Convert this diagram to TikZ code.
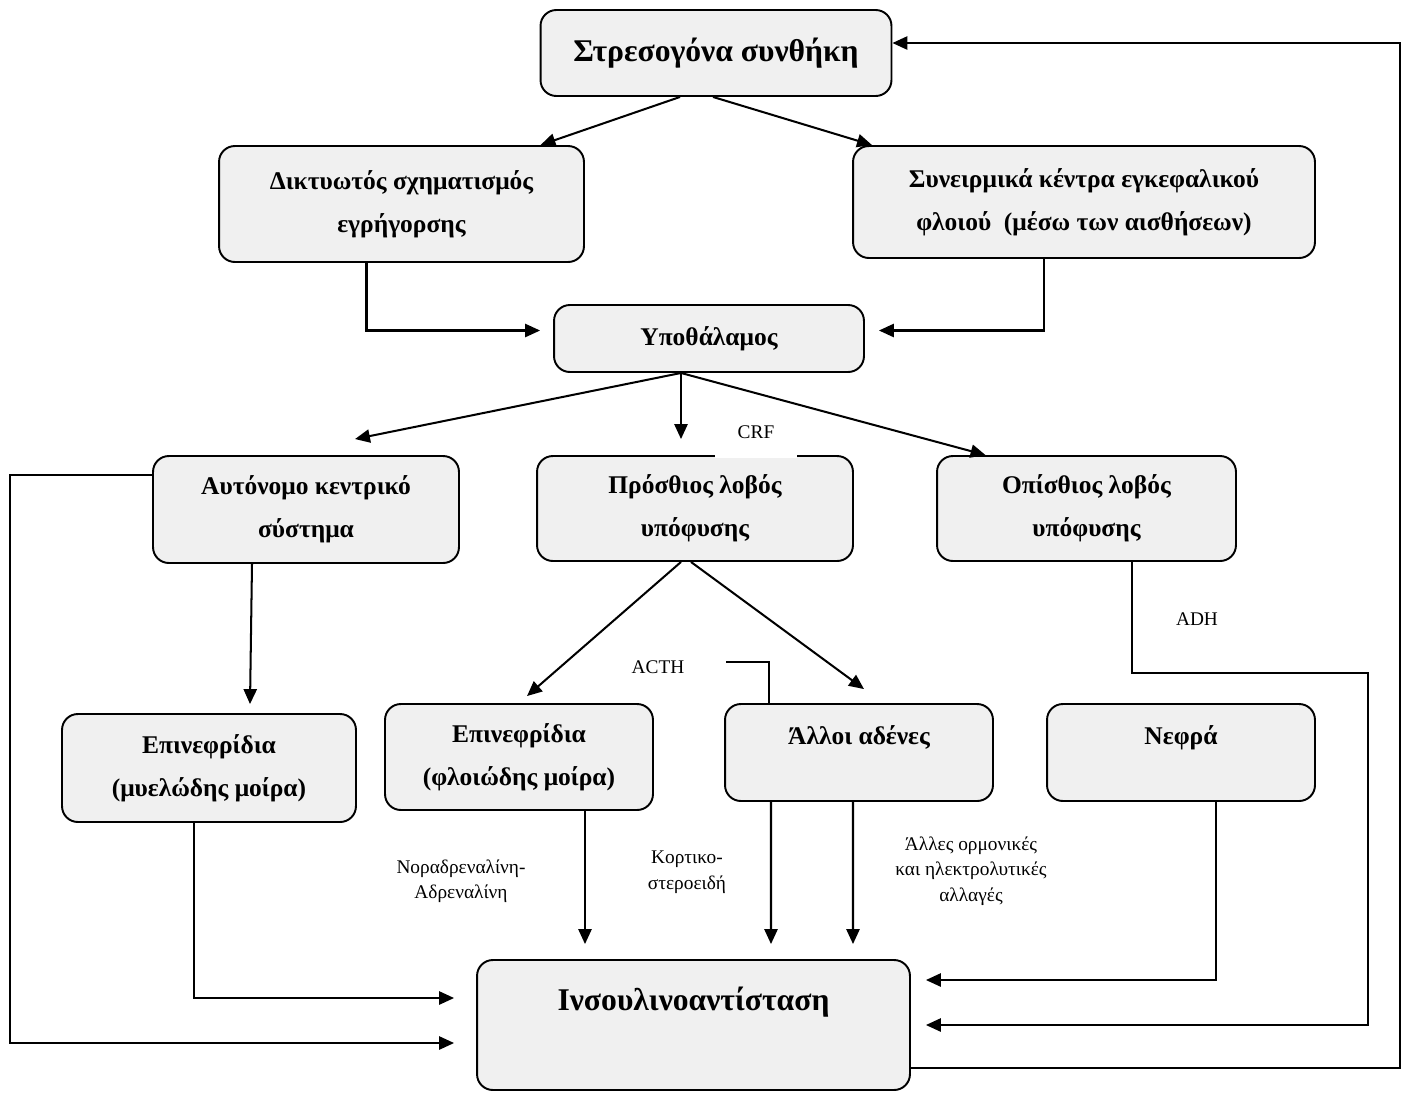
\documentclass[tikz,border=0pt]{standalone}
\usepackage{fontspec}
\setmainfont{Liberation Serif}
\usetikzlibrary{arrows.meta,calc}
\definecolor{boxgray}{RGB}{240,240,240}

\begin{document}
\begin{tikzpicture}[x=0.02cm,y=-0.02cm,
  bx/.style={draw,line width=1.1pt,rounded corners=9pt,fill=boxgray,align=center,
    font=\fontsize{14.5}{24.5}\selectfont\bfseries,inner sep=2pt},
  big/.style={font=\fontsize{18}{22}\selectfont\bfseries},
  ar/.style={line width=1.15pt,-{Triangle[length=8.5pt,width=7.5pt]}},
  ln/.style={line width=1.15pt},
  lb/.style={font=\fontsize{11}{14.5}\selectfont,align=center,inner sep=1pt}]
\useasboundingbox (0,0) rectangle (1410,1093);
% boxes
\node[bx,big,minimum width=7.02cm,minimum height=1.72cm] (stress) at (716,53) {Στρεσογόνα συνθήκη};
\node[bx,minimum width=7.3cm,minimum height=2.32cm] (retic) at (401.5,204) {Δικτυωτός σχηματισμός\\εγρήγορσης};
\node[bx,minimum width=9.24cm,minimum height=2.24cm] (assoc) at (1084,202) {Συνειρμικά κέντρα εγκεφαλικού\\φλοιού\ \ (μέσω των αισθήσεων)};
\node[bx,minimum width=6.2cm,minimum height=1.34cm] (hypo) at (709,338.5) {Υποθάλαμος};
\node[bx,minimum width=6.12cm,minimum height=2.14cm] (ans) at (306,509.5) {Αυτόνομο κεντρικό\\σύστημα};
\node[bx,minimum width=6.32cm,minimum height=2.1cm] (ant) at (695,508.5) {Πρόσθιος λοβός\\υπόφυσης};
\node[bx,minimum width=5.98cm,minimum height=2.1cm] (post) at (1086.5,508.5) {Οπίσθιος λοβός\\υπόφυσης};
\node[bx,minimum width=5.88cm,minimum height=2.16cm] (medul) at (209,768) {Επινεφρίδια\\(μυελώδης μοίρα)};
\node[bx,minimum width=5.36cm,minimum height=2.12cm] (cortx) at (519,757) {Επινεφρίδια\\(φλοιώδης μοίρα)};
\node[bx,minimum width=5.36cm,minimum height=1.94cm,text depth=20pt] (gland) at (859,752.5) {Άλλοι αδένες};
\node[bx,minimum width=5.36cm,minimum height=1.94cm,text depth=20pt] (kidney) at (1181,752.5) {Νεφρά};
\node[bx,big,minimum width=8.66cm,minimum height=2.6cm,text depth=30pt] (insul) at (693.5,1025) {Ινσουλινοαντίσταση};
\coordinate (loopR) at (1400,500);
\coordinate (loopL) at (10,700);
\coordinate (adhR) at (1368,673);
% labels
\node[lb,fill=white,minimum width=1.64cm,minimum height=1.04cm] (crf) at (756,432) {CRF};
\node[lb] (acth) at (658,667) {ACTH};
\node[lb] (adh) at (1197,619) {ADH};
\node[lb] (noradr) at (461,881) {Νοραδρεναλίνη-\\Αδρεναλίνη};
\node[lb] (cortic) at (687,872) {Κορτικο-\\στεροειδή};
\node[lb] (other) at (971,871) {Άλλες ορμονικές\\και ηλεκτρολυτικές\\αλλαγές};
% arrows
\draw[ar] ($(stress.south)+(-36,0)$) -- ($(retic.north)+(139,0)$);
\draw[ar] ($(stress.south)+(-3,0)$) -- ($(assoc.north)+(-212,0)$);
\draw[ar] ($(insul.east)+(0,43)$) -| (loopR) |- ($(stress.east)+(0,-10)$);
\draw[ar] ($(retic.south)+(-35,0)$) |- ($(hypo.west)+(-13,-8)$);
\draw[ar] ($(assoc.south)+(-40,0)$) |- ($(hypo.east)+(14,-8)$);
\draw[ar] ($(hypo.south)+(-28,0)$) -- ($(ans.north)+(49,-16)$);
\draw[ar] ($(hypo.south)+(-28,0)$) -- ($(ant.north)+(-14,-16)$);
\draw[ar] ($(hypo.south)+(-28,0)$) -- ($(post.north)+(-101,0)$);
\draw[ar] ($(ans.south)+(-54,0)$) -- ($(medul.north)+(41,-9)$);
\draw[ar] ($(ans.west)+(0,-35)$) -| (loopL) |- ($(insul.west)+(-22,18)$);
\draw[ar] ($(ant.south)+(-14,0)$) -- ($(cortx.north)+(8,-7)$);
\draw[ar] ($(ant.south)+(-4,0)$) -- ($(gland.north)+(5,-14)$);
\draw[ln] ($(gland.north west)+(2,-41)$) -| ($(gland.north)+(-90,0)$);
\draw[ar] ($(post.south)+(45.5,0)$) |- (adhR) |- ($(insul.east)+(15,0)$);
\draw[ar] ($(medul.south)+(-15,0)$) |- ($(insul.west)+(-22,-27)$);
\draw[ar] ($(cortx.south)+(66,0)$) -- ($(insul.north)+(-108.5,-15)$);
\draw[ar] ($(gland.south)+(-88,0)$) -- ($(insul.north)+(77.5,-15)$);
\draw[ar] ($(gland.south)+(-6,0)$) -- ($(insul.north)+(159.5,-15)$);
\draw[ar] ($(kidney.south)+(35,0)$) |- ($(insul.east)+(15,-45)$);
\end{tikzpicture}
\end{document}
